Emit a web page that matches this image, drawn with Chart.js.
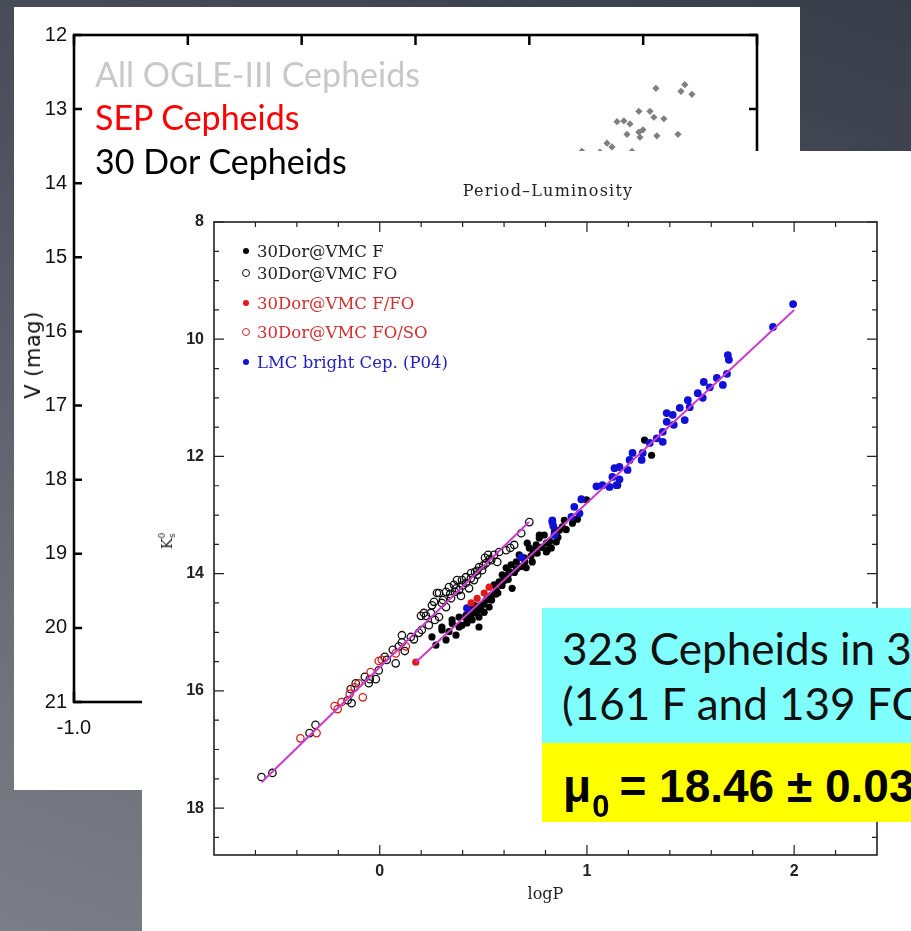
<!DOCTYPE html>
<html>
<head>
<meta charset="utf-8">
<script src="https://cdn.jsdelivr.net/npm/chart.js@4.4.1/dist/chart.umd.min.js"></script>
<style>
  html, body { margin: 0; padding: 0; }
  body {
    width: 911px; height: 931px; overflow: hidden; position: relative;
    background: linear-gradient(200deg, #383d4a 0%, #50545f 40%, #6c6f78 75%, #7b7e86 100%);
  }
  .panel { position: absolute; background: #fff; }
  #backPanel { left: 14px; top: 7px; width: 786px; height: 783px; }
  #frontPanel { left: 142px; top: 151px; width: 769px; height: 780px; }
  canvas { position: absolute; left: 0; top: 0; }
  .abs { position: absolute; white-space: nowrap; }
  #vmag { left: 33px; top: 355px; font: 21px "DejaVu Sans", sans-serif; letter-spacing: 0.5px; color: #111;
          transform: translate(-50%, -50%) rotate(-90deg); }
  .bigLegend { left: 95px; font: 34px Lato, sans-serif; line-height: 40px; }
  #plTitle { left: 406px; top: 39px; transform: translate(-50%, -50%);
             font: 16px "DejaVu Serif", serif; letter-spacing: 1.2px; color: #222; }
  #kLabel { left: 25px; top: 390px; transform: translate(-50%, -50%) rotate(-90deg);
            font: 15px "DejaVu Serif", serif; color: #222; }
  #kLabel sub { font-size: 9px; vertical-align: -3px; }
  #kLabel sup { font-size: 9px; vertical-align: 7px; margin-left: -5px; }
  .leg { left: 115px; font: 16.5px "DejaVu Serif", serif; transform: translateY(-50%); }
  .mk { position: absolute; border-radius: 50%; transform: translate(-50%, -50%); box-sizing: border-box; }
  #cyanBox { left: 542px; top: 608px; width: 369px; height: 135px; background: #80ffff; }
  #yellowBox { left: 542px; top: 743px; width: 369px; height: 79px; background: #ffff00; }
  .boxText { left: 562px; font: 44px Lato, sans-serif; color: #111; line-height: 55px; }
  #mu { left: 563px; top: 763px; font: bold 46px "Liberation Sans", sans-serif; line-height: 46px; color: #000; }
  #mu .s { font-size: 31px; position: relative; top: 15px; margin-right: 10px; margin-left: 1px; }
</style>
</head>
<body>
<div class="panel" id="backPanel"><canvas id="backChart" width="786" height="783"></canvas></div>
<div class="abs" id="vmag">V (mag)</div>

<div class="panel" id="frontPanel">
  <canvas id="frontChart" width="769" height="780"></canvas>
  <div class="abs" id="plTitle">Period–Luminosity</div>
  <div class="abs" id="kLabel">K<sub>s</sub><sup>0</sup></div>
  <div class="mk" style="left:104px;top:100px;width:6px;height:6px;background:#000"></div>
  <div class="abs leg" style="top:100px;color:#222">30Dor@VMC F</div>
  <div class="mk" style="left:104px;top:122px;width:8px;height:8px;border:1.2px solid #111"></div>
  <div class="abs leg" style="top:122px;color:#222">30Dor@VMC FO</div>
  <div class="mk" style="left:104px;top:152px;width:6px;height:6px;background:#e01818"></div>
  <div class="abs leg" style="top:152px;color:#d03030">30Dor@VMC F/FO</div>
  <div class="mk" style="left:104px;top:181px;width:8px;height:8px;border:1.2px solid #d42020"></div>
  <div class="abs leg" style="top:181px;color:#d03030">30Dor@VMC FO/SO</div>
  <div class="mk" style="left:104px;top:211px;width:6px;height:6px;background:#1010d8"></div>
  <div class="abs leg" style="top:211px;color:#2020c0">LMC bright Cep. (P04)</div>
</div>

<div class="abs bigLegend" style="top:54px;color:#c8c8c8">All OGLE-III Cepheids</div>
<div class="abs bigLegend" style="top:97px;color:#ff0000">SEP Cepheids</div>
<div class="abs bigLegend" style="top:141px;color:#000">30 Dor Cepheids</div>

<div class="abs" id="cyanBox"></div>
<div class="abs" id="yellowBox"></div>
<div class="abs boxText" style="top:621px">323 Cepheids in 30 Dor</div>
<div class="abs boxText" style="top:676px">(161 F and 139 FO)</div>
<div class="abs" id="mu">μ<span class="s">0</span>= 18.46 ± 0.03</div>

<script>
// ---------- Background panel: OGLE-III Cepheids, V vs logP ----------
const ogleCepheids = [
  [1.556, 12.72], [1.666, 12.76], [1.683, 12.67], [1.714, 12.80], [1.481, 13.03],
  [1.530, 13.03], [1.547, 13.11], [1.591, 13.13], [1.385, 13.17], [1.415, 13.16],
  [1.442, 13.20], [1.429, 13.34], [1.481, 13.31], [1.499, 13.28], [1.486, 13.38],
  [1.560, 13.36], [1.653, 13.34], [1.341, 13.46], [1.363, 13.51], [1.231, 13.57],
  [1.451, 13.57], [1.310, 13.58]
];
const backXTicks = [-1.0, -0.5, 0.0, 0.5, 1.0, 1.5, 2.0];
const backYTicks = [12, 13, 14, 15, 16, 17, 18, 19, 20, 21];

// ---------- Foreground panel: 30 Dor Cepheids, Ks0 vs logP ----------
const fStars = [
  [0.252, 15.08], [0.271, 15.22], [0.300, 14.96], [0.300, 14.91], [0.320, 15.13],
  [0.334, 14.99], [0.349, 14.79], [0.368, 15.05], [0.383, 14.74], [0.383, 14.91],
  [0.397, 14.88], [0.416, 14.71], [0.421, 14.84], [0.431, 14.59], [0.446, 14.79],
  [0.455, 14.54], [0.465, 14.67], [0.479, 14.74], [0.479, 14.91], [0.489, 14.62],
  [0.504, 14.66], [0.513, 14.45], [0.528, 14.57], [0.538, 14.37], [0.552, 14.19],
  [0.562, 14.28], [0.576, 14.14], [0.591, 14.02], [0.600, 14.06], [0.610, 13.90],
  [0.625, 13.97], [0.634, 13.85], [0.639, 14.25], [0.659, 13.80], [0.673, 13.68],
  [0.697, 13.73], [0.707, 13.90], [0.712, 13.48], [0.722, 13.56], [0.736, 13.80],
  [0.746, 13.60], [0.755, 13.51], [0.770, 13.39], [0.770, 13.34], [0.794, 13.34],
  [0.804, 13.48], [0.804, 13.63], [0.809, 13.60], [0.828, 13.56], [0.843, 13.29],
  [0.852, 13.46], [0.867, 13.26], [0.881, 13.20], [0.891, 13.09], [0.930, 13.14],
  [0.954, 13.07], [0.998, 12.74], [1.148, 12.49], [1.278, 11.72], [1.312, 11.98],
  [0.35, 14.85], [0.42, 14.78], [0.46, 14.60], [0.50, 14.52], [0.54, 14.45],
  [0.57, 14.33], [0.59, 14.20], [0.62, 14.10], [0.65, 13.98], [0.68, 13.88],
  [0.70, 13.80], [0.73, 13.70], [0.76, 13.65], [0.78, 13.55], [0.82, 13.45],
  [0.86, 13.38], [0.90, 13.25], [0.44, 14.70], [0.52, 14.40], [0.60, 14.12],
  [0.66, 13.92], [0.74, 13.62], [0.62, 14.02], [0.56, 14.35], [0.48, 14.55]
];
const foStars = [
  [-0.571, 17.47], [-0.518, 17.40], [-0.339, 16.72], [-0.310, 16.58], [-0.155, 16.16],
  [-0.136, 16.21], [-0.140, 15.97], [-0.116, 15.87], [-0.072, 15.76], [-0.053, 15.87],
  [-0.048, 15.80], [-0.019, 15.80], [-0.005, 15.65], [0.024, 15.42], [0.034, 15.47],
  [0.063, 15.30], [0.077, 15.53], [0.092, 15.24], [0.107, 15.17], [0.107, 15.05],
  [0.121, 15.32], [0.150, 15.08], [0.165, 15.12], [0.189, 15.01], [0.203, 14.96],
  [0.199, 14.72], [0.213, 14.67], [0.223, 14.72], [0.237, 14.88], [0.247, 14.67],
  [0.252, 14.54], [0.262, 14.48], [0.266, 14.79], [0.276, 14.33], [0.286, 14.33],
  [0.286, 14.74], [0.305, 14.45], [0.320, 14.57], [0.320, 14.31], [0.334, 14.23],
  [0.344, 14.42], [0.358, 14.19], [0.363, 14.31], [0.373, 14.11], [0.383, 14.28],
  [0.392, 14.38], [0.397, 14.11], [0.416, 14.06], [0.416, 14.16], [0.431, 14.25],
  [0.441, 13.99], [0.455, 14.11], [0.460, 13.97], [0.470, 14.02], [0.479, 13.89],
  [0.494, 13.94], [0.508, 13.73], [0.513, 13.82], [0.523, 13.68], [0.538, 13.77],
  [0.552, 13.68], [0.567, 13.80], [0.576, 13.63], [0.610, 13.60], [0.630, 13.56],
  [0.649, 13.51], [0.683, 13.31], [0.722, 13.12],
  [0.30, 14.50], [0.34, 14.35], [0.37, 14.25], [0.40, 14.20], [0.44, 14.08],
  [0.47, 13.95], [0.50, 13.86], [0.53, 13.75]
];
const fFoStars = [[0.174, 15.51], [0.441, 14.50], [0.470, 14.42], [0.504, 14.33], [0.528, 14.23]];
const foSoStars = [
  [-0.383, 16.81], [-0.305, 16.72], [-0.218, 16.26], [-0.203, 16.31], [-0.184, 16.19],
  [-0.145, 16.05], [-0.121, 15.94], [-0.102, 15.87], [-0.082, 16.11], [-0.044, 15.68],
  [-0.005, 15.49], [0.010, 15.47], [0.077, 15.36], [0.126, 15.24]
];
const lmcBright = [
  [0.421, 14.59], [0.683, 13.72], [0.833, 13.12], [0.843, 13.34], [0.833, 13.09],
  [0.838, 13.19], [0.925, 13.03], [0.939, 12.86], [0.964, 12.97], [0.973, 12.73],
  [1.046, 12.51], [1.075, 12.49], [1.109, 12.52], [1.143, 12.49], [1.123, 12.35],
  [1.157, 12.39], [1.196, 12.23], [1.133, 12.20], [1.157, 12.18], [1.206, 12.06],
  [1.264, 12.06], [1.220, 11.94], [1.269, 11.94], [1.303, 11.77], [1.337, 11.69],
  [1.366, 11.75], [1.366, 11.58], [1.385, 11.41], [1.419, 11.46], [1.385, 11.26],
  [1.414, 11.29], [1.472, 11.38], [1.448, 11.17], [1.487, 11.04], [1.496, 11.16],
  [1.535, 10.92], [1.559, 11.00], [1.564, 10.73], [1.593, 10.82], [1.627, 10.66],
  [1.656, 10.78], [1.676, 10.59], [1.680, 10.27], [1.685, 10.35], [1.898, 9.79],
  [1.995, 9.40]
];
const foFit = [[-0.57, 17.56], [0.72, 13.12]];
const fFit = [[0.174, 15.51], [2.0, 9.50]];

const frontXMajor = [0, 1, 2];
const frontXMinor = [-0.6, -0.4, -0.2, 0.2, 0.4, 0.6, 0.8, 1.2, 1.4, 1.6, 1.8, 2.2];
const frontYMajor = [8, 10, 12, 14, 16, 18];
const frontYMinor = [8.5, 9, 9.5, 10.5, 11, 11.5, 12.5, 13, 13.5, 14.5, 15, 15.5, 16.5, 17, 17.5, 18.5];

const toXY = arr => arr.map(([x, y]) => ({ x, y }));

// Plot frame plus inward-pointing tick marks placed through the chart's scales
const frameTicks = {
  id: 'frameTicks',
  beforeDatasetsDraw(chart, args, o) {
    const { ctx, chartArea: a, scales: { x, y } } = chart;
    ctx.save();
    ctx.strokeStyle = o.color;
    ctx.lineWidth = o.tickWidth;
    ctx.beginPath();
    const xt = (vals, len) => vals.forEach(v => {
      const p = x.getPixelForValue(v);
      ctx.moveTo(p, a.bottom); ctx.lineTo(p, a.bottom - len);
      ctx.moveTo(p, a.top); ctx.lineTo(p, a.top + len);
    });
    const yt = (vals, len) => vals.forEach(v => {
      const p = y.getPixelForValue(v);
      ctx.moveTo(a.left, p); ctx.lineTo(a.left + len, p);
      ctx.moveTo(a.right, p); ctx.lineTo(a.right - len, p);
    });
    xt(o.xMajor, o.xMajorLen); xt(o.xMinor, o.minorLen);
    yt(o.yMajor, o.yMajorLen); yt(o.yMinor, o.minorLen);
    ctx.stroke();
    ctx.lineWidth = o.frameWidth;
    ctx.strokeRect(a.left, a.top, a.right - a.left, a.bottom - a.top);
    ctx.restore();
  }
};

// ---------- back chart ----------
new Chart(document.getElementById('backChart'), {
  type: 'scatter',
  data: {
    datasets: [{
      data: toXY(ogleCepheids), pointStyle: 'rectRot', pointRadius: 3.6,
      backgroundColor: '#7f7f7f', borderWidth: 0
    }]
  },
  options: {
    responsive: false, animation: false, events: [],
    layout: { padding: { left: 0, top: 28, right: 43, bottom: 0 } },
    plugins: {
      legend: { display: false }, tooltip: { enabled: false },
      frameTicks: {
        color: '#000', tickWidth: 2.5, frameWidth: 2.6,
        xMajor: backXTicks, xMinor: [], yMajor: backYTicks, yMinor: [],
        xMajorLen: 10, yMajorLen: 8, minorLen: 0
      }
    },
    scales: {
      x: {
        type: 'linear', min: -1, max: 2,
        afterFit(s) { s.height = 88; },
        afterBuildTicks(s) { s.ticks = backXTicks.map(v => ({ value: v })); },
        grid: { display: false, drawTicks: false }, border: { display: false },
        ticks: {
          autoSkip: false, maxRotation: 0, padding: 14, color: '#111',
          font: { family: 'Liberation Sans', size: 20 },
          callback: v => v.toFixed(1)
        }
      },
      y: {
        type: 'linear', min: 12, max: 21, reverse: true,
        afterFit(s) { s.width = 60; },
        afterBuildTicks(s) { s.ticks = backYTicks.map(v => ({ value: v })); },
        grid: { display: false, drawTicks: false }, border: { display: false },
        ticks: {
          autoSkip: false, padding: 7, color: '#111',
          font: { family: 'Liberation Sans', size: 20 },
          callback: v => String(v)
        }
      }
    }
  },
  plugins: [frameTicks]
});

// ---------- front chart ----------
const fitStyle = { showLine: true, borderColor: '#cc3ccc', borderWidth: 2, pointRadius: 0, order: 0 };
new Chart(document.getElementById('frontChart'), {
  type: 'scatter',
  data: {
    datasets: [
      { data: toXY(foFit), ...fitStyle },
      { data: toXY(fFit), ...fitStyle },
      { data: toXY(fFoStars), pointRadius: 3.6, backgroundColor: '#e01818', borderWidth: 0, order: 1 },
      { data: toXY(lmcBright), pointRadius: 3.9, backgroundColor: '#1010d8', borderWidth: 0, order: 2 },
      { data: toXY(fStars), pointRadius: 3.6, backgroundColor: '#000', borderWidth: 0, order: 3 },
      { data: toXY(foSoStars), pointRadius: 3.7, backgroundColor: 'rgba(0,0,0,0)', borderColor: '#d42020', borderWidth: 1.3, order: 4 },
      { data: toXY(foStars), pointRadius: 3.7, backgroundColor: 'rgba(0,0,0,0)', borderColor: '#111', borderWidth: 1.3, order: 5 }
    ]
  },
  options: {
    responsive: false, animation: false, events: [],
    layout: { padding: { left: 0, top: 71, right: 34, bottom: 0 } },
    plugins: {
      legend: { display: false }, tooltip: { enabled: false },
      frameTicks: {
        color: '#222', tickWidth: 1.2, frameWidth: 1.6,
        xMajor: frontXMajor, xMinor: frontXMinor, yMajor: frontYMajor, yMinor: frontYMinor,
        xMajorLen: 10, yMajorLen: 10, minorLen: 5
      }
    },
    scales: {
      x: {
        type: 'linear', min: -0.8, max: 2.4,
        afterFit(s) { s.height = 76; },
        afterBuildTicks(s) { s.ticks = frontXMajor.map(v => ({ value: v })); },
        grid: { display: false, drawTicks: false }, border: { display: false },
        ticks: {
          autoSkip: false, maxRotation: 0, padding: 7, color: '#222',
          font: { family: 'Liberation Sans', size: 16, weight: 'bold' },
          callback: v => String(v)
        },
        title: {
          display: true, text: 'logP', color: '#222',
          font: { family: 'DejaVu Serif', size: 16 }, padding: { top: 0, bottom: 27 }
        }
      },
      y: {
        type: 'linear', min: 8, max: 18.8, reverse: true,
        afterFit(s) { s.width = 72; },
        afterBuildTicks(s) { s.ticks = frontYMajor.map(v => ({ value: v })); },
        grid: { display: false, drawTicks: false }, border: { display: false },
        ticks: {
          autoSkip: false, padding: 10, color: '#222',
          font: { family: 'Liberation Sans', size: 16, weight: 'bold' },
          callback: v => String(v)
        }
      }
    }
  },
  plugins: [frameTicks]
});
</script>
</body>
</html>
